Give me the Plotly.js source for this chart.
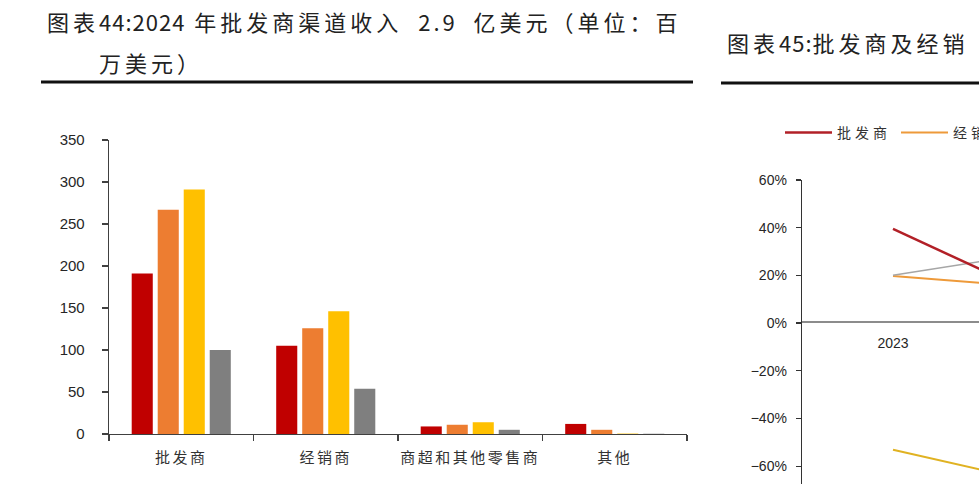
<!DOCTYPE html>
<html><head><meta charset="utf-8">
<script src="https://cdn.plot.ly/plotly-3.0.1.min.js"></script>
<style>
html,body{margin:0;padding:0;background:#fff;overflow:hidden;}
#wrap{width:979px;height:484px;overflow:hidden;position:relative;background:#fff;}
#chart{width:1400px;height:560px;}
.xtick text{letter-spacing:2.5px;}
.annotation-text{letter-spacing:4px;}
.legendtext{letter-spacing:4px;}
</style></head><body><div id="wrap"><div id="chart"></div></div>
<script>
// ---- Left chart data (百万美元) ----
const channels = ["批发商", "经销商", "商超和其他零售商", "其他"];
const series1 = [191, 105, 9, 12];
const series2 = [267, 126, 11, 5];
const series3 = [291, 146, 14, 0.5];
const series4 = [100, 54, 5, 0.3];
const barColors = ["#C00000", "#ED7D31", "#FFC000", "#7F7F7F"];

// ---- Right chart data (growth) ----
const years = ["2023", "2024"];
const growthWholesale = [0.395, 0.042];   // 批发商
const growthDistributor = [0.198, 0.136]; // 经销商
const growthRetail = [0.201, 0.321];      // 商超和其他零售商
const growthOther = [-0.531, -0.704];     // 其他

const W = 1400, H = 560;
const px = x => x / W;
const py = y => (H - y) / H;

const barSeries = [series1, series2, series3, series4];
const traces = barSeries.map((vals, i) => ({
  type: 'bar', x: channels, y: vals, xaxis: 'x', yaxis: 'y',
  name: '系列' + (i + 1), showlegend: false,
  marker: {color: barColors[i], line: {width: 0}}, hoverinfo: 'skip'
}));

const lineDefs = [
  {name: '经销商', y: growthDistributor, color: '#EE9A3A', width: 2, rank: 2},
  {name: '商超和其他零售商', y: growthRetail, color: '#A6A6A6', width: 1.5, rank: 3},
  {name: '其他', y: growthOther, color: '#E0B222', width: 2, rank: 4},
  {name: '批发商', y: growthWholesale, color: '#B22027', width: 2.5, rank: 1}
];
lineDefs.forEach(d => traces.push({
  type: 'scatter', mode: 'lines', x: years, y: d.y, xaxis: 'x2', yaxis: 'y2',
  name: d.name, legendrank: d.rank, line: {color: d.color, width: d.width}, hoverinfo: 'skip'
}));

const cjk = '"Noto Sans CJK SC", sans-serif';
const lat = (s, ls) => '<span style="letter-spacing:' + ls + 'px">' + s + '</span>';
const layout = {
  width: W, height: H,
  margin: {l: 0, r: 0, t: 0, b: 0, autoexpand: false},
  paper_bgcolor: '#ffffff', plot_bgcolor: 'rgba(0,0,0,0)',
  font: {family: '"Liberation Sans", Arial, sans-serif', color: '#262626'},
  barmode: 'group', bargap: 0.28, bargroupgap: 0.19,
  xaxis: {
    domain: [px(109), px(687)], anchor: 'y', type: 'category', range: [-0.5, 3.5],
    showline: true, linecolor: '#404040', linewidth: 1.3,
    ticks: 'outside', tickson: 'boundaries', ticklen: 6, tickcolor: '#404040', tickwidth: 1.3,
    tickfont: {family: cjk, size: 15, color: '#333'}, ticklabelstandoff: 10,
    showgrid: false, zeroline: false, fixedrange: true
  },
  yaxis: {
    domain: [py(434), py(140)], anchor: 'x', range: [0, 350], tick0: 0, dtick: 50,
    showline: true, linecolor: '#404040', linewidth: 1.3,
    ticks: 'outside', ticklen: 6, tickcolor: '#404040', tickwidth: 1.3,
    tickfont: {size: 15, color: '#262626'}, ticklabelstandoff: 14,
    showgrid: false, zeroline: false, fixedrange: true
  },
  xaxis2: {
    domain: [px(802), px(979)], anchor: 'free', position: py(322), type: 'category',
    range: [-0.5, -0.5 + 177 / 182],
    showline: true, linecolor: '#8C8C8C', linewidth: 2, ticks: '',
    tickfont: {size: 14, color: '#262626'}, ticklabelstandoff: 8,
    showgrid: false, zeroline: false, fixedrange: true
  },
  yaxis2: {
    domain: [py(484), py(180)], anchor: 'x2', range: [0.6 - 304 / 238.5, 0.6], tick0: 0, dtick: 0.2, tickformat: '.0%',
    showline: true, linecolor: '#333', linewidth: 1.3,
    ticks: 'outside', ticklen: 5, tickcolor: '#333', tickwidth: 1.3,
    tickfont: {size: 14, color: '#262626'}, ticklabelstandoff: 6,
    showgrid: false, zeroline: false, fixedrange: true
  },
  legend: {
    orientation: 'h', x: px(780), xanchor: 'left', y: py(117), yanchor: 'top',
    font: {family: cjk, size: 14, color: '#333'}, itemwidth: 47,
    bgcolor: 'rgba(0,0,0,0)', borderwidth: 0
  },
  annotations: [
    {text: '图表' + lat('44:2024', 1) + ' 年批发商渠道收入' + lat('\u00A0 2.9 \u00A0', 3) + '亿美元（单位：百', x: px(45), y: py(21)},
    {text: '万美元）', x: px(97), y: py(62)},
    {text: '图表' + lat('45:', 1) + '批发商及经销', x: px(725), y: py(42)}
  ].map(a => Object.assign({xref: 'paper', yref: 'paper', xanchor: 'left', yanchor: 'middle',
    showarrow: false, font: {family: cjk, size: 22, color: '#222'}}, a)),
  shapes: [
    {type: 'line', xref: 'paper', yref: 'paper', x0: px(41), x1: px(693), y0: py(82), y1: py(82), line: {color: '#111', width: 3}},
    {type: 'line', xref: 'paper', yref: 'paper', x0: px(721), x1: 1, y0: py(83), y1: py(83), line: {color: '#111', width: 3}}
  ]
};

Plotly.newPlot('chart', traces, layout, {staticPlot: true, displayModeBar: false});
</script></body></html>
